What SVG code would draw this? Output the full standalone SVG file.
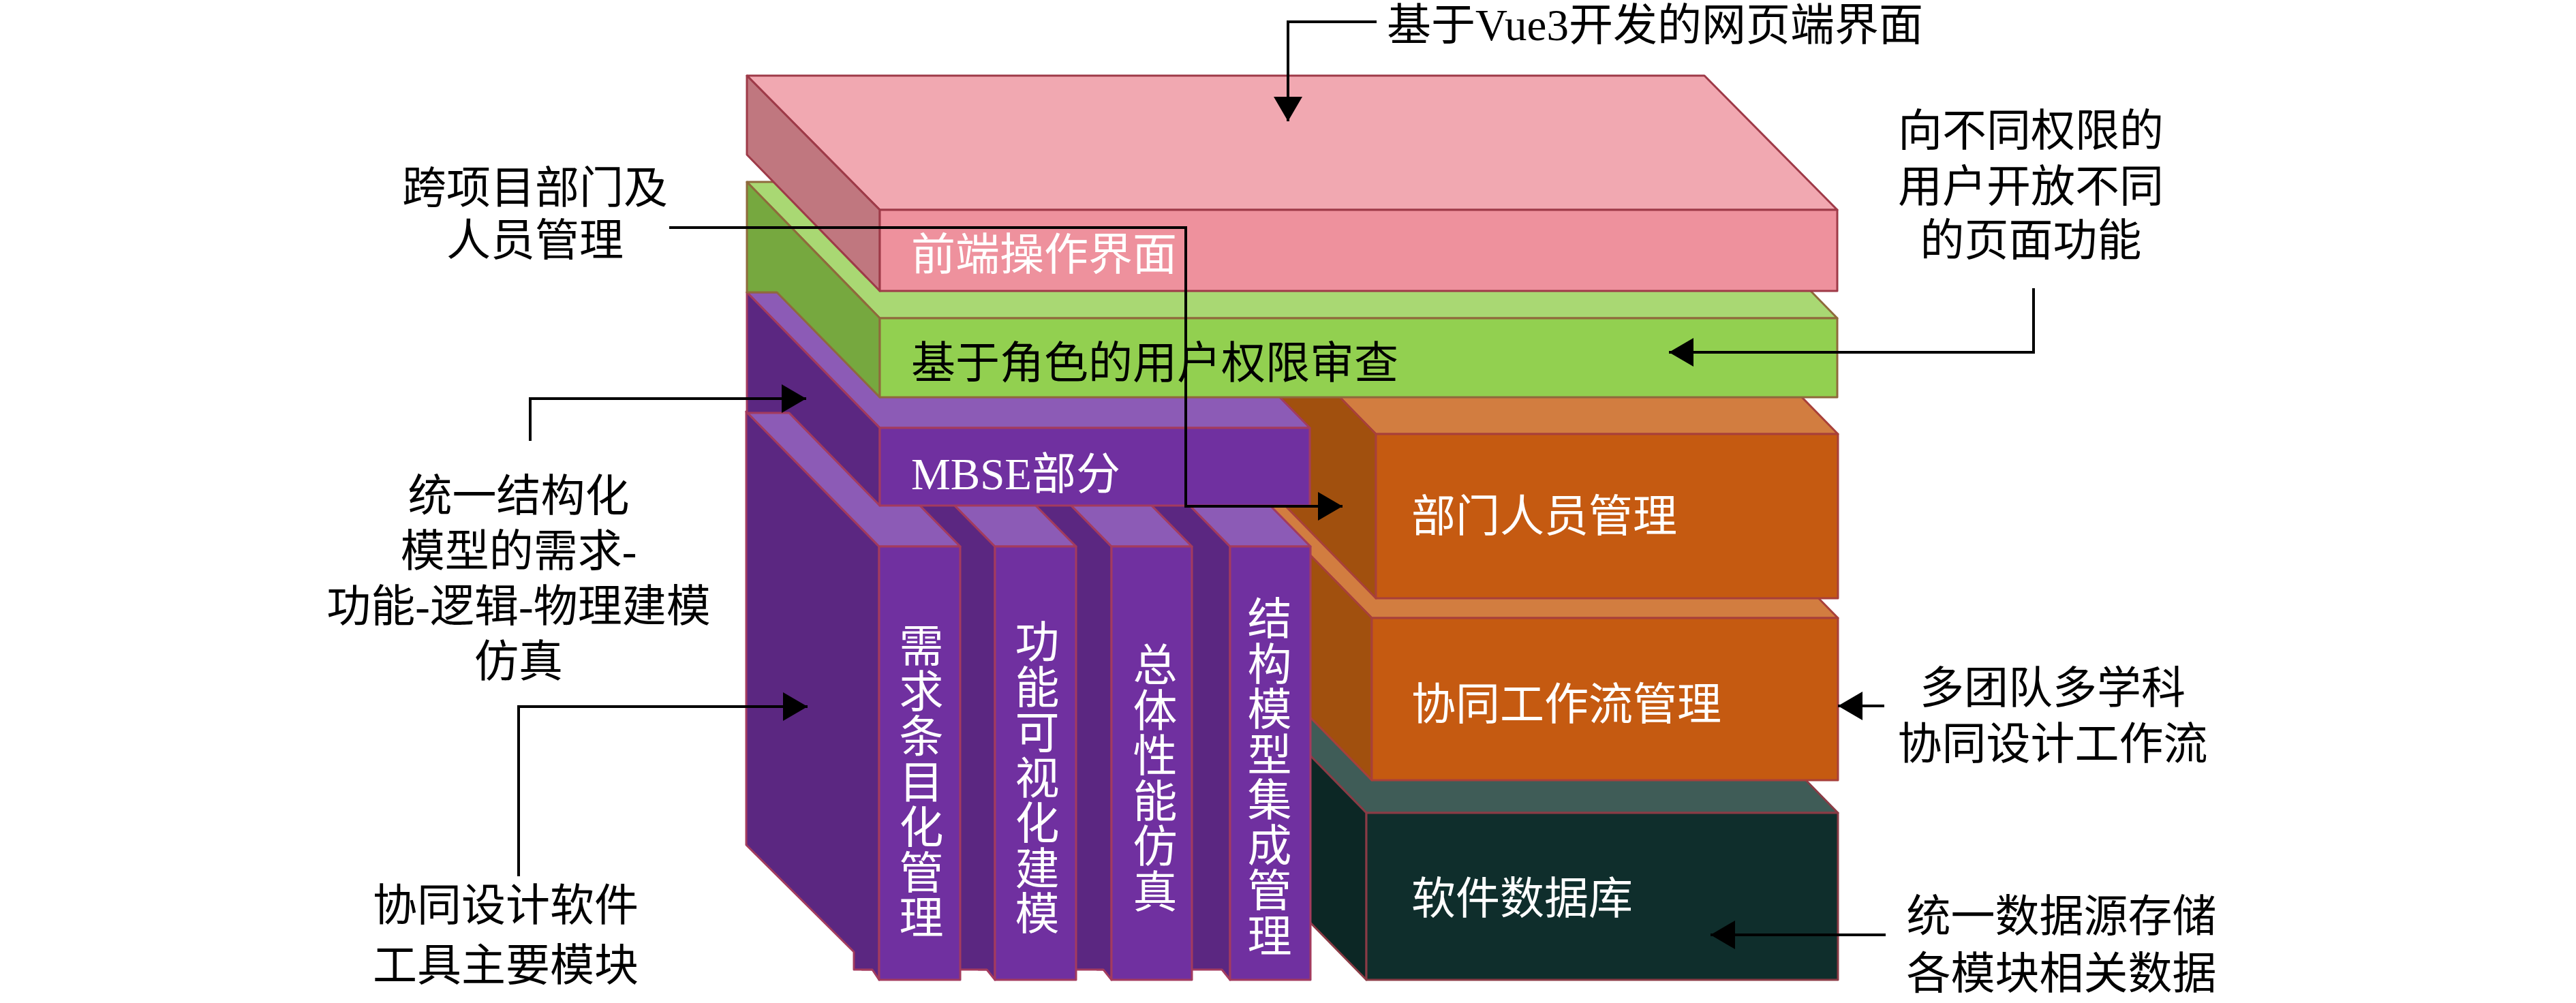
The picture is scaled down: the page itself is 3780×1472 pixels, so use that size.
<svg xmlns="http://www.w3.org/2000/svg" width="3780" height="1472" viewBox="0 0 3780 1472">
<defs>
<marker id="arr" markerUnits="userSpaceOnUse" markerWidth="38" markerHeight="42" refX="36" refY="21" orient="auto">
<path d="M0,0 L36,21 L0,42 z" fill="#000"/>
</marker>
<style>
.t{font-family:"Liberation Serif","Noto Sans CJK SC",serif;font-size:65px;}
.lbl{fill:#000;}
.w{fill:#FFFFFF;}
.k{fill:#000;}
.ps{stroke:#9E3A48;stroke-width:3;stroke-linejoin:round;}
.gs{stroke:#8F6A3C;stroke-width:3;stroke-linejoin:round;}
.us{stroke:#A33B5E;stroke-width:3;stroke-linejoin:round;}
.os{stroke:#A8403A;stroke-width:3;stroke-linejoin:round;}
.ds{stroke:#8A3B45;stroke-width:3;stroke-linejoin:round;}
.pTop{fill:#F1A8B1;}.pFront{fill:#EE919D;}.pLeft{fill:#C0777F;}
.gTop{fill:#A9D873;}.gFront{fill:#92D050;}.gLeft{fill:#76A83F;}
.uTop{fill:#8C5BB6;}.uFront{fill:#7030A0;}.uLeft{fill:#5B2781;}
.oTop{fill:#D27D40;}.oFront{fill:#C55A11;}.oLeft{fill:#A1500E;}
.dTop{fill:#3F5C57;}.dFront{fill:#0F2E2C;}.dLeft{fill:#0C2725;}
.conn{fill:none;stroke:#000;stroke-width:4;}
</style>
</defs>
<rect width="3780" height="1472" fill="#FFFFFF"/>

<g id="database">
<polygon class="dTop ds" points="1810,994 2502,994 2697,1193 2005,1193"/>
<polygon class="dLeft ds" points="1810,994 2005,1193 2005,1438 1810,1239"/>
<rect class="dFront ds" x="2005" y="1193" width="692" height="245"/>
<text class="t w" x="2071" y="1341">软件数据库</text>
</g>

<g id="workflow">
<polygon class="oTop os" points="1818,708 2502,708 2697,907 2013,907"/>
<polygon class="oLeft os" points="1818,708 2013,907 2013,1145 1818,946"/>
<rect class="oFront os" x="2013" y="907" width="684" height="238"/>
<text class="t w" x="2071" y="1056">协同工作流管理</text>
</g>

<g id="dept-mgmt">
<polygon class="oTop os" points="1824,438 2502,438 2697,637 2019,637"/>
<polygon class="oLeft os" points="1824,438 2019,637 2019,878 1824,679"/>
<rect class="oFront os" x="2019" y="637" width="678" height="241"/>
<text class="t w" x="2071" y="780">部门人员管理</text>
</g>

<g id="col-4">
<polygon class="uLeft us" points="1610,604 1805,802 1805,1438 1793,1423 1610,1423"/>
<polygon class="uTop us" points="1610,604 1728,604 1923,802 1805,802"/>
<rect class="uFront us" x="1805" y="802" width="118" height="636"/>
<text class="t w" text-anchor="middle"><tspan x="1863" y="931">结</tspan><tspan x="1863" dy="66.5">构</tspan><tspan x="1863" dy="66.5">模</tspan><tspan x="1863" dy="66.5">型</tspan><tspan x="1863" dy="66.5">集</tspan><tspan x="1863" dy="66.5">成</tspan><tspan x="1863" dy="66.5">管</tspan><tspan x="1863" dy="66.5">理</tspan></text>
</g>

<g id="col-3">
<polygon class="uLeft us" points="1436,604 1631,802 1631,1438 1619,1423 1436,1423"/>
<polygon class="uTop us" points="1436,604 1554,604 1749,802 1631,802"/>
<rect class="uFront us" x="1631" y="802" width="118" height="636"/>
<text class="t w" text-anchor="middle"><tspan x="1695" y="999">总</tspan><tspan x="1695" dy="66.5">体</tspan><tspan x="1695" dy="66.5">性</tspan><tspan x="1695" dy="66.5">能</tspan><tspan x="1695" dy="66.5">仿</tspan><tspan x="1695" dy="66.5">真</tspan></text>
</g>

<g id="col-2">
<polygon class="uLeft us" points="1265,604 1460,802 1460,1438 1448,1423 1265,1423"/>
<polygon class="uTop us" points="1265,604 1384,604 1579,802 1460,802"/>
<rect class="uFront us" x="1460" y="802" width="119" height="636"/>
<text class="t w" text-anchor="middle"><tspan x="1522" y="965">功</tspan><tspan x="1522" dy="66.5">能</tspan><tspan x="1522" dy="66.5">可</tspan><tspan x="1522" dy="66.5">视</tspan><tspan x="1522" dy="66.5">化</tspan><tspan x="1522" dy="66.5">建</tspan><tspan x="1522" dy="66.5">模</tspan></text>
</g>

<g id="col-1">
<polygon class="uLeft us" points="1095,604 1290,802 1290,1438 1280,1423 1253,1423 1253,1397 1095,1240"/>
<polygon class="uTop us" points="1095,604 1214,604 1409,802 1290,802"/>
<rect class="uFront us" x="1290" y="802" width="119" height="636"/>
<text class="t w" text-anchor="middle"><tspan x="1352" y="971">需</tspan><tspan x="1352" dy="66.5">求</tspan><tspan x="1352" dy="66.5">条</tspan><tspan x="1352" dy="66.5">目</tspan><tspan x="1352" dy="66.5">化</tspan><tspan x="1352" dy="66.5">管</tspan><tspan x="1352" dy="66.5">理</tspan></text>
</g>

<g id="mbse">
<polygon class="uTop us" points="1096,429 1727,429 1922,628 1291,628"/>
<polygon class="uLeft us" points="1096,429 1291,628 1291,742 1158,606 1096,606"/>
<rect class="uFront us" x="1291" y="628" width="631" height="114"/>
<text class="t w" x="1337" y="718">MBSE部分</text>
</g>

<g id="rbac">
<polygon class="gTop gs" points="1096,267 2501,267 2696,467 1291,467"/>
<polygon class="gLeft gs" points="1096,267 1291,467 1291,583 1140,429 1096,429"/>
<rect class="gFront gs" x="1291" y="467" width="1405" height="116"/>
<text class="t k" x="1337" y="555">基于角色的用户权限审查</text>
</g>

<g id="frontend">
<polygon class="pTop ps" points="1096,111 2501,111 2696,308 1291,308"/>
<polygon class="pLeft ps" points="1096,111 1291,308 1291,427 1096,227"/>
<rect class="pFront ps" x="1291" y="308" width="1405" height="119"/>
<text class="t w" x="1337" y="396">前端操作界面</text>
</g>

<g id="connectors">
<path class="conn" d="M2020,32 H1890 V178" marker-end="url(#arr)"/>
<path class="conn" d="M982,334 H1740 V743 H1970" marker-end="url(#arr)"/>
<path class="conn" d="M778,647 V585 H1183" marker-end="url(#arr)"/>
<path class="conn" d="M761,1286 V1037 H1185" marker-end="url(#arr)"/>
<path class="conn" d="M2984,423 V517 H2449" marker-end="url(#arr)"/>
<path class="conn" d="M2765,1036 H2697" marker-end="url(#arr)"/>
<path class="conn" d="M2767,1372 H2510" marker-end="url(#arr)"/>
</g>

<g id="label-vue">
<text class="t lbl" x="2035" y="59">基于Vue3开发的网页端界面</text>
</g>
<g id="label-cross-dept">
<text class="t lbl" text-anchor="middle"><tspan x="785" y="298">跨项目部门及</tspan><tspan x="785" y="375">人员管理</tspan></text>
</g>
<g id="label-mbse">
<text class="t lbl" text-anchor="middle"><tspan x="761" y="750">统一结构化</tspan><tspan x="761" y="831">模型的需求-</tspan><tspan x="761" y="912">功能-逻辑-物理建模</tspan><tspan x="761" y="993">仿真</tspan></text>
</g>
<g id="label-modules">
<text class="t lbl" text-anchor="middle"><tspan x="742" y="1351">协同设计软件</tspan><tspan x="742" y="1439">工具主要模块</tspan></text>
</g>
<g id="label-permission">
<text class="t lbl" text-anchor="middle"><tspan x="2980" y="214">向不同权限的</tspan><tspan x="2980" y="296">用户开放不同</tspan><tspan x="2980" y="375">的页面功能</tspan></text>
</g>
<g id="label-workflow">
<text class="t lbl" text-anchor="middle"><tspan x="3012" y="1032">多团队多学科</tspan><tspan x="3012" y="1114">协同设计工作流</tspan></text>
</g>
<g id="label-database">
<text class="t lbl" text-anchor="middle"><tspan x="3025" y="1367">统一数据源存储</tspan><tspan x="3025" y="1451">各模块相关数据</tspan></text>
</g>
</svg>
